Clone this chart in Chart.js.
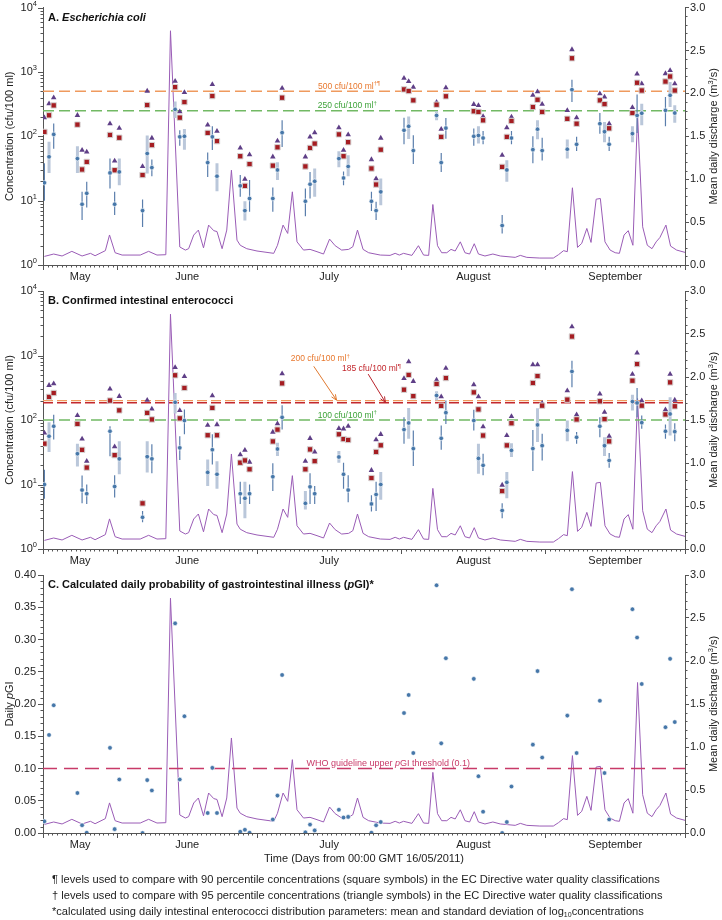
<!DOCTYPE html>
<html>
<head>
<meta charset="utf-8">
<script src="https://cdn.jsdelivr.net/npm/chart.js@4.4.0/dist/chart.umd.min.js"></script>
<style>
  body { margin: 0; background: #fff; }
  #wrap { position: relative; width: 722px; height: 920px; overflow: hidden; font-family: "Liberation Sans", Arial, sans-serif; }
  canvas { position: absolute; left: 0; }
  #notes { position: absolute; left: 52px; top: 871px; font-size: 11.1px; line-height: 16px; color: #222; white-space: nowrap; }
  #notes sub { font-size: 7px; line-height: 0; vertical-align: -2px; }
</style>
</head>
<body>
<div id="wrap">
  <canvas id="chartA" width="722" height="290" style="top:0px"></canvas>
  <canvas id="chartB" width="722" height="294" style="top:280px"></canvas>
  <canvas id="chartC" width="722" height="310" style="top:564px"></canvas>
  <div id="notes">
    <div>¶ levels used to compare with 90 percentile concentrations (square symbols) in the EC Directive water quality classifications</div>
    <div>† levels used to compare with 95 percentile concentrations (triangle symbols) in the EC Directive water quality classifications</div>
    <div>*calculated using daily intestinal enterococci distribution parameters: mean and standard deviation of log<sub>10</sub>concentrations</div>
  </div>
</div>
<script>
// x axis: days from 00:00 GMT 16/05/2011
const monthNames = ['May', 'June', 'July', 'August', 'September'];
const monthCentres = [8, 31, 61.5, 92.5, 123];
const monthStarts = [0, 16, 46, 77, 108, 138];

// sampling days (three consecutive days each week)
const sampleDays = [0.3, 1.3, 2.3, 7.4, 8.4, 9.4, 14.4, 15.4, 16.4, 21.4, 22.4, 23.4,
  28.4, 29.4, 30.4, 35.4, 36.4, 37.4, 42.4, 43.4, 44.4, 49.4, 50.4, 51.4,
  56.4, 57.4, 58.4, 63.6, 64.6, 65.6, 70.6, 71.6, 72.6, 77.6, 78.6, 79.6,
  84.6, 85.6, 86.6, 92.6, 93.6, 94.6, 98.7, 99.7, 100.7, 105.3, 106.3, 107.3,
  112.7, 113.7, 114.7, 119.7, 120.7, 121.7, 126.7, 127.7, 128.7, 133.8, 134.8, 135.8];

// A. E. coli (cfu/100 ml)
const ecoliMean = [19, 48, 107, 45, 8.8, 13, 27, 8.8, 28, 7, 54, 32.6, 262, 98, 100, 39, 98, 24,
  17, 7, 10.8, 10.8, 30, 114, 9.8, 18, 20, 45, 22.5, 34, 9.8, 7, 13.7, 124, 143, 60,
  211, 39, 134, 100, 103, 94, 4.1, 30, 94, 62, 129, 60, 63, 530, 75, 157, 118, 75,
  110, 211, 228, 253, 433, 230];
const ecoliLow = [10, 27, 64, 27, 5, 7.8, 15.5, 6, 17.4, 3.9, 26.5, 24, 192, 71, 62, 23.4, 61, 14,
  11.5, 4.9, 6.7, 6.7, 21, 68, 5.7, 10.8, 11.5, 33, 17.4, 24, 6.9, 5, 8.5, 75, 91, 37,
  177, 28, 92, 71, 77, 75, 3.1, 19.6, 75, 38, 90, 42, 45, 340, 59, 110, 81, 59,
  81, 113, 148, 143, 285, 162];
const ecoliHigh = [38, 82, 158, 70, 13.7, 19.6, 45, 13.7, 45, 10.4, 103, 43.5, 348, 124, 130, 56, 143, 38,
  25, 9.8, 21, 16, 39.5, 177, 15.4, 28, 31.5, 58.5, 28.3, 50.7, 13.7, 9.6, 22, 195, 204, 104,
  246, 55, 192, 132, 143, 121, 6, 42.5, 121, 100, 177, 95, 89, 755, 98, 230, 167, 98,
  143, 448, 320, 408, 700, 303];
const ecoliErrKind = 'DLDLDDDDLDLDLDLDDLDLDDLDDDLLDLDDLDLDLDDDLDDLDDLDLDDDLDLDLDLL';
const ecoliP90 = [117, 212, 302, 152, 30.5, 40, 105, 29.7, 95, 25, 306, 73, 580, 195, 340, 113, 422, 84,
  49, 17, 37, 35, 67.5, 398, 34, 66, 77, 107, 49, 81, 31.6, 17.8, 62, 535, 505, 362,
  310, 98, 418, 245, 239, 177, 33.5, 98, 173, 285, 370, 239, 187, 1630, 157, 362, 316, 133,
  230, 680, 515, 710, 850, 515];
const ecoliP95 = [195, 322, 397, 212, 61, 57, 157, 41.5, 134, 34, 505, 94, 720, 242, 480, 150, 640, 120,
  66, 21.6, 52, 48, 85, 560, 48, 98, 114, 136, 61, 106, 43.5, 22, 94, 800, 710, 580,
  340, 129, 570, 314, 302, 204, 51, 136, 200, 437, 492, 316, 252, 2230, 195, 458, 410, 157,
  282, 935, 655, 945, 1055, 655];

// B. intestinal enterococci (cfu/100 ml)
const entMean = [10, 56, 80, 30, 8.2, 7.2, 67, 9.3, 25, 3.1, 27, 25, 188, 37, 98, 15.4, 34.6, 14.4,
  7.2, 6.1, 7.2, 13.2, 35.5, 110, 5.1, 9.2, 7.2, 26.7, 14.4, 8.2, 5, 7, 10, 71, 90, 36,
  240, 52, 130, 98, 25.4, 19.8, 3.96, 10.8, 33.8, 36, 84, 40, 69, 566, 54, 80, 40, 23.6,
  193, 184, 91, 67, 124, 66];
const entLow = [6, 32, 50, 19, 5.1, 5, 27.5, 6.3, 14.4, 2.6, 15.3, 15, 126, 24, 60, 9.5, 20.5, 8.6,
  5, 3, 5, 7.9, 27.6, 71, 4.1, 5, 5, 21.8, 8.6, 5.3, 3.8, 3.9, 5.8, 43, 51, 19.4,
  200, 34.6, 87, 69, 14.7, 13.9, 3, 6.1, 26.7, 16.2, 45.5, 23.6, 47, 322, 43, 54, 27.6, 18.2,
  140, 110, 73, 51, 57.5, 47];
const entHigh = [17, 92, 121, 43, 13.8, 10, 80, 13.9, 47, 3.9, 47, 42, 262, 56, 146, 24.5, 60, 23,
  11, 11, 10, 21.4, 44.5, 169, 7.9, 14.9, 9.5, 33, 21.8, 13.9, 6.8, 11, 15.6, 110, 154, 69,
  279, 82, 200, 144, 43, 30, 5.1, 15.6, 43.7, 70, 152, 61, 98, 826, 65, 110, 54, 30.7,
  246, 314, 117, 85, 225, 89];
const entErrKind = 'DLDLDDDDLDLDLDDLDLDLDDLDLDDLDDDDLDLDLDDDLDDLLDLDLDDDLDLDDDLD';
const entP90 = [43, 228, 262, 87, 34.5, 18.3, 200, 28.5, 141, 5.1, 129, 102, 493, 106, 314, 58, 154, 58,
  21.8, 23.6, 17.2, 46.5, 71, 370, 17.2, 35, 23, 60, 50.6, 49, 12.6, 32, 40.5, 295, 500, 234,
  362, 166, 447, 268, 146, 57.5, 7.9, 40.4, 89, 375, 480, 167, 207, 1970, 102, 195, 103, 46.6,
  407, 737, 167, 122, 383, 163];
const entP95 = [63, 345, 366, 118, 51, 23, 303, 38.5, 233, 5.2, 203, 148, 655, 141, 475, 83, 239, 85,
  29, 34, 22.3, 65, 88, 522, 23, 52, 32, 74, 73, 80, 16.6, 49.5, 60, 442, 800, 398,
  417, 230, 636, 353, 230, 79, 9.8, 57.5, 114, 720, 720, 182, 285, 2800, 121, 253, 132, 56,
  515, 1095, 200, 145, 515, 204];

// C. daily probability of GI illness
const pGI = [0.018, 0.152, 0.198, 0.062, 0.012, 0.0005, 0.132, 0.006, 0.083, 0.0, 0.082, 0.066,
  0.325, 0.083, 0.181, 0.031, 0.101, 0.031, 0.002, 0.005, 0.0005, 0.021, 0.058, 0.245,
  0.001, 0.013, 0.004, 0.036, 0.024, 0.025, 0.0005, 0.012, 0.017, 0.186, 0.214, 0.124,
  0.384, 0.139, 0.271, 0.239, 0.088, 0.033, 0.0, 0.017, 0.072, 0.137, 0.251, 0.117,
  0.182, 0.378, 0.124, 0.205, 0.093, 0.021, 0.347, 0.303, 0.231, 0.164, 0.270, 0.172];

// mean daily discharge (m3/s)
const flowDays = [0.3, 2.3, 4.1, 6.2, 8.4, 10.2, 11.2, 13.4, 14.3, 15.5, 17, 20.9, 22.7, 24.5, 26.4, 27.4,
  29.4, 30.6, 31.3, 32.4, 33.4, 34.5, 35.6, 36.7, 37.4, 38.5, 39.5, 40.5, 41.7, 42.4, 43.8, 46,
  49.6, 50.4, 51.6, 52.6, 53.6, 54.6, 56, 57.4, 58.9, 60.3, 61.6, 62.8, 64.2, 65.7, 66.6, 67.6,
  68.8, 70, 72.5, 74.6, 75.7, 76.6, 77.5, 79.3, 80.7, 81.8, 82.9, 83.8, 84.8, 85.7, 86.8, 87.7,
  88.6, 89.7, 90.7, 91.7, 92.7, 93.6, 95, 96.7, 98.3, 101.5, 102.6, 104, 106.8, 109.7, 110.8, 111.9,
  112.7, 113.8, 114.9, 115.8, 116.9, 117.8, 118.9, 119.8, 120.8, 121.9, 123, 123.9, 124.9, 125.8, 126.8, 127.8,
  128.9, 129.9, 130.9, 131.8, 132.6, 133.9, 134.9, 136.2, 138];
const flowValues = [0.1, 0.128, 0.105, 0.159, 0.105, 0.136, 0.108, 0.167, 0.35, 0.143, 0.116, 0.116, 0.159, 0.116, 0.12, 2.73,
  0.21, 0.174, 0.19, 0.349, 0.407, 0.2, 0.465, 0.4, 0.39, 0.19, 0.407, 1.105, 0.29, 0.23, 0.19, 0.163,
  0.136, 0.23, 0.465, 0.368, 0.853, 0.27, 0.174, 0.182, 0.155, 0.128, 0.302, 0.225, 0.174, 0.182, 0.213, 0.407,
  0.182, 0.143, 0.116, 0.112, 0.136, 0.116, 0.136, 0.112, 0.225, 0.116, 0.112, 0.705, 0.225, 0.143, 0.143, 0.182,
  0.163, 0.27, 0.143, 0.128, 0.248, 0.128, 0.105, 0.128, 0.105, 0.089, 0.112, 0.089, 0.081, 0.081, 0.12, 0.167,
  0.155, 0.9, 0.205, 0.252, 0.426, 0.263, 0.767, 0.775, 0.27, 0.174, 0.143, 0.136, 0.349, 0.4, 0.23, 1.75,
  0.445, 0.23, 0.19, 0.27, 0.32, 0.465, 0.22, 0.174, 0.147];

const FF = '"Liberation Sans", Arial, Helvetica, sans-serif';
const INK = '#222';
const AXIS = '#555';
const BLUE = '#4677a9';
const ERR_DARK = '#5a7eac';
const ERR_LIGHT = '#bac7da';
const RED = '#a51d22';
const PURPLE = '#5f3f87';
const FLOW = '#9a5cb6';
const ORANGE = '#ef9a5e', ORANGE_TXT = '#e8782e';
const GREEN = '#72b964', GREEN_TXT = '#3ea33a';
const DARKRED = '#c3282e';
const WHO = '#c83a68';

const fTick = '11px ' + FF;
const fSup = '7.5px ' + FF;
const fNote = '8.5px ' + FF;
const fNoteSup = '6px ' + FF;
const fTitle = 'bold 11px ' + FF;
const fTitleIt = 'italic bold 11px ' + FF;

function pts(xs, ys) {
  return xs.map((x, i) => ({ x: x, y: ys[i] }));
}

function errPts(xs, lo, hi, kind, want) {
  const out = [];
  xs.forEach((x, i) => {
    if (kind[i] !== want) return;
    out.push({ x: x, y: lo[i] }, { x: x, y: hi[i] }, { x: x, y: null });
  });
  return out;
}

function hline(v, color, dash, width) {
  return { type: 'line', data: [{ x: 0, y: v }, { x: 138, y: v }], borderColor: color, borderWidth: width || 1.4,
    borderDash: dash, pointRadius: 0, order: 6 };
}

function flowSet() {
  return { type: 'line', yAxisID: 'y2', data: pts(flowDays, flowValues), borderColor: FLOW, borderWidth: 1,
    pointRadius: 0, tension: 0, order: 7 };
}

function concSets(mean, lo, hi, kind, p90, p95, lines) {
  return [
    flowSet(),
    ...lines,
    { type: 'line', data: errPts(sampleDays, lo, hi, kind, 'L'), borderColor: ERR_LIGHT, borderWidth: 3, pointRadius: 0, order: 5 },
    { type: 'line', data: errPts(sampleDays, lo, hi, kind, 'D'), borderColor: ERR_DARK, borderWidth: 1.2, pointRadius: 0, order: 4 },
    { type: 'scatter', data: pts(sampleDays, p95), pointStyle: 'triangle', pointRadius: 3.2, backgroundColor: PURPLE, borderWidth: 0, order: 3 },
    { type: 'scatter', data: pts(sampleDays, p90), pointStyle: 'rect', pointRadius: 3.8, backgroundColor: RED, borderColor: '#d6d6d6', borderWidth: 1, order: 2 },
    { type: 'scatter', data: pts(sampleDays, mean), pointRadius: 2.3, backgroundColor: BLUE, borderColor: '#ffffff', borderWidth: 0.6, order: 1 }
  ];
}

// text + decorations per canvas
const panelSpecs = {
  chartA: {
    log: true,
    title: [{ t: 'A. ', f: fTitle }, { t: 'Escherichia coli', f: fTitleIt }],
    leftTitle: [{ t: 'Concentration (cfu/100 ml)', f: fTick }],
    notes: [
      { x: 65.8, y: 590, c: ORANGE_TXT, parts: [{ t: '500 cfu/100 ml', f: fNote }, { t: '†¶', f: fNoteSup, dy: -3 }] },
      { x: 65.4, y: 295, c: GREEN_TXT, parts: [{ t: '250 cfu/100 ml', f: fNote }, { t: '†', f: fNoteSup, dy: -3 }] }
    ],
    arrows: []
  },
  chartB: {
    log: true,
    title: [{ t: 'B. Confirmed intestinal enterococci', f: fTitle }],
    leftTitle: [{ t: 'Concentration (cfu/100 ml)', f: fTick }],
    notes: [
      { x: 59.6, y: 880, c: ORANGE_TXT, parts: [{ t: '200 cfu/100 ml', f: fNote }, { t: '†', f: fNoteSup, dy: -3 }] },
      { x: 70.6, y: 615, c: DARKRED, parts: [{ t: '185 cfu/100 ml', f: fNote }, { t: '¶', f: fNoteSup, dy: -3 }] },
      { x: 65.4, y: 116, c: GREEN_TXT, parts: [{ t: '100 cfu/100 ml', f: fNote }, { t: '†', f: fNoteSup, dy: -3 }] }
    ],
    arrows: [
      { from: [58.2, 680], to: [63.1, 203], c: '#e0782e' },
      { from: [69.9, 515], to: [73.6, 188], c: '#b8232b' }
    ]
  },
  chartC: {
    log: false,
    title: [{ t: 'C. Calculated daily probability of gastrointestinal illness (', f: fTitle }, { t: 'p', f: fTitleIt }, { t: 'GI)*', f: fTitle }],
    leftTitle: [{ t: 'Daily ', f: fTick }, { t: 'p', f: 'italic 11px ' + FF }, { t: 'GI', f: fTick }],
    notes: [
      { x: 74.2, y: 0.1075, c: WHO, parts: [{ t: 'WHO guideline upper ', f: '9px ' + FF }, { t: 'p', f: 'italic 9px ' + FF }, { t: 'GI threshold (0.1)', f: '9px ' + FF }] }
    ],
    arrows: [],
    xTitle: 'Time (Days from 00:00 GMT 16/05/2011)'
  }
};

function rich(ctx, parts, x, y, align, color) {
  ctx.fillStyle = color || INK;
  ctx.textBaseline = 'middle';
  ctx.textAlign = 'left';
  let w = 0;
  for (const p of parts) { ctx.font = p.f; w += ctx.measureText(p.t).width; }
  let cx = align === 'center' ? x - w / 2 : (align === 'right' ? x - w : x);
  for (const p of parts) {
    ctx.font = p.f;
    ctx.fillText(p.t, cx, y + (p.dy || 0));
    cx += ctx.measureText(p.t).width;
  }
}

function tick(ctx, x1, y1, x2, y2) {
  ctx.beginPath();
  ctx.moveTo(x1, y1);
  ctx.lineTo(x2, y2);
  ctx.stroke();
}

const decor = {
  id: 'decor',
  afterDraw(chart) {
    const spec = panelSpecs[chart.canvas.id];
    const { ctx, chartArea: a, scales } = chart;
    const xs = scales.x, ys = scales.y, y2 = scales.y2;
    ctx.save();
    ctx.strokeStyle = AXIS;
    ctx.lineWidth = 1;

    // day ticks, longer at month starts
    for (let d = 0; d <= 138; d++) {
      const px = Math.round(xs.getPixelForValue(d)) + 0.5;
      tick(ctx, px, a.bottom, px, a.bottom + (monthStarts.includes(d) ? 5 : 2.5));
    }

    // left axis
    if (spec.log) {
      for (let e = 0; e <= 4; e++) {
        for (let m = 1; m < 10; m++) {
          if (e === 4 && m > 1) break;
          const py = Math.round(ys.getPixelForValue(m * Math.pow(10, e))) + 0.5;
          tick(ctx, a.left, py, a.left - (m === 1 ? 5 : 2.5), py);
        }
        const py = ys.getPixelForValue(Math.pow(10, e));
        rich(ctx, [{ t: '10', f: fTick }, { t: String(e), f: fSup, dy: -4 }], a.left - 6, py, 'right', INK);
      }
    } else {
      for (let k = 0; k <= 40; k++) {
        if (k % 5 === 0) continue;
        const py = Math.round(ys.getPixelForValue(k / 100)) + 0.5;
        tick(ctx, a.left, py, a.left - 2.5, py);
      }
    }

    // right axis minor ticks
    for (let k = 0; k <= 30; k++) {
      if (k % 5 === 0) continue;
      const py = Math.round(y2.getPixelForValue(k / 10)) + 0.5;
      tick(ctx, a.right, py, a.right + 2.5, py);
    }

    // threshold labels and arrows
    for (const n of spec.notes) {
      rich(ctx, n.parts, xs.getPixelForValue(n.x), ys.getPixelForValue(n.y), 'center', n.c);
    }
    for (const ar of spec.arrows) {
      const x1 = xs.getPixelForValue(ar.from[0]), y1 = ys.getPixelForValue(ar.from[1]);
      const x2 = xs.getPixelForValue(ar.to[0]), y2p = ys.getPixelForValue(ar.to[1]);
      ctx.strokeStyle = ar.c;
      ctx.lineWidth = 1;
      tick(ctx, x1, y1, x2, y2p);
      const ang = Math.atan2(y2p - y1, x2 - x1);
      ctx.beginPath();
      ctx.moveTo(x2 - 6 * Math.cos(ang - 0.4), y2p - 6 * Math.sin(ang - 0.4));
      ctx.lineTo(x2, y2p);
      ctx.lineTo(x2 - 6 * Math.cos(ang + 0.4), y2p - 6 * Math.sin(ang + 0.4));
      ctx.stroke();
    }

    // panel title
    rich(ctx, spec.title, a.left + 5, a.top + 10, 'left', '#111');

    // axis titles
    const midY = (a.top + a.bottom) / 2;
    ctx.save();
    ctx.translate(10, midY);
    ctx.rotate(-Math.PI / 2);
    rich(ctx, spec.leftTitle, 0, 0, 'center', INK);
    ctx.restore();
    ctx.save();
    ctx.translate(714, midY);
    ctx.rotate(-Math.PI / 2);
    rich(ctx, [{ t: 'Mean daily discharge (m', f: fTick }, { t: '3', f: fSup, dy: -3 }, { t: '/s)', f: fTick }], 0, 0, 'center', INK);
    ctx.restore();

    if (spec.xTitle) {
      rich(ctx, [{ t: spec.xTitle, f: fTick }], (a.left + a.right) / 2, a.bottom + 26, 'center', INK);
    }
    ctx.restore();
  }
};

function makePanel(id, datasets, leftScale, padTop, xHeight) {
  return new Chart(document.getElementById(id), {
    type: 'scatter',
    data: { datasets: datasets },
    plugins: [decor],
    options: {
      responsive: false,
      animation: false,
      events: [],
      layout: { padding: { top: padTop, left: 0, right: 0, bottom: 0 } },
      plugins: { legend: { display: false }, tooltip: { enabled: false } },
      scales: {
        x: {
          type: 'linear', min: 0, max: 138, offset: false,
          afterBuildTicks: s => { s.ticks = monthCentres.map(v => ({ value: v })); },
          afterFit: s => { s.height = xHeight; },
          ticks: { autoSkip: false, maxRotation: 0, padding: 5, color: INK, font: { family: FF, size: 11 },
            callback: (v, i) => monthNames[i] },
          grid: { display: false, drawTicks: false },
          border: { display: true, color: AXIS, width: 1 }
        },
        y: leftScale,
        y2: {
          type: 'linear', position: 'right', min: 0, max: 3,
          afterFit: s => { s.width = 37; },
          ticks: { stepSize: 0.5, padding: 1, color: INK, font: { family: FF, size: 11 }, callback: v => v.toFixed(1) },
          grid: { drawOnChartArea: false, tickLength: 4, color: AXIS },
          border: { display: true, color: AXIS, width: 1 }
        }
      }
    }
  });
}

const logScale = {
  type: 'logarithmic', position: 'left', min: 1, max: 10000,
  afterFit: s => { s.width = 43; },
  ticks: { display: false },
  grid: { display: false, drawTicks: false },
  border: { display: true, color: AXIS, width: 1 }
};

makePanel('chartA', concSets(ecoliMean, ecoliLow, ecoliHigh, ecoliErrKind, ecoliP90, ecoliP95, [
  hline(500, ORANGE, [11, 5], 1.6),
  hline(250, GREEN, [11, 5])
]), logScale, 7, 25);

makePanel('chartB', concSets(entMean, entLow, entHigh, entErrKind, entP90, entP95, [
  hline(200, ORANGE, [10, 4]),
  hline(185, DARKRED, [10, 4]),
  hline(100, GREEN, [11, 5], 1.6)
]), Object.assign({}, logScale), 11, 25);

makePanel('chartC', [
  flowSet(),
  hline(0.1, WHO, [14, 7]),
  { type: 'scatter', data: pts(sampleDays, pGI), pointRadius: 2.3, backgroundColor: BLUE, borderColor: '#ffffff', borderWidth: 0.6, order: 1 }
], {
  type: 'linear', position: 'left', min: 0, max: 0.4,
  afterFit: s => { s.width = 43; },
  ticks: { stepSize: 0.05, padding: 2, color: INK, font: { family: FF, size: 11 }, callback: v => v.toFixed(2) },
  grid: { drawOnChartArea: false, tickLength: 5, color: AXIS },
  border: { display: true, color: AXIS, width: 1 }
}, 11, 41);
</script>
</body>
</html>
